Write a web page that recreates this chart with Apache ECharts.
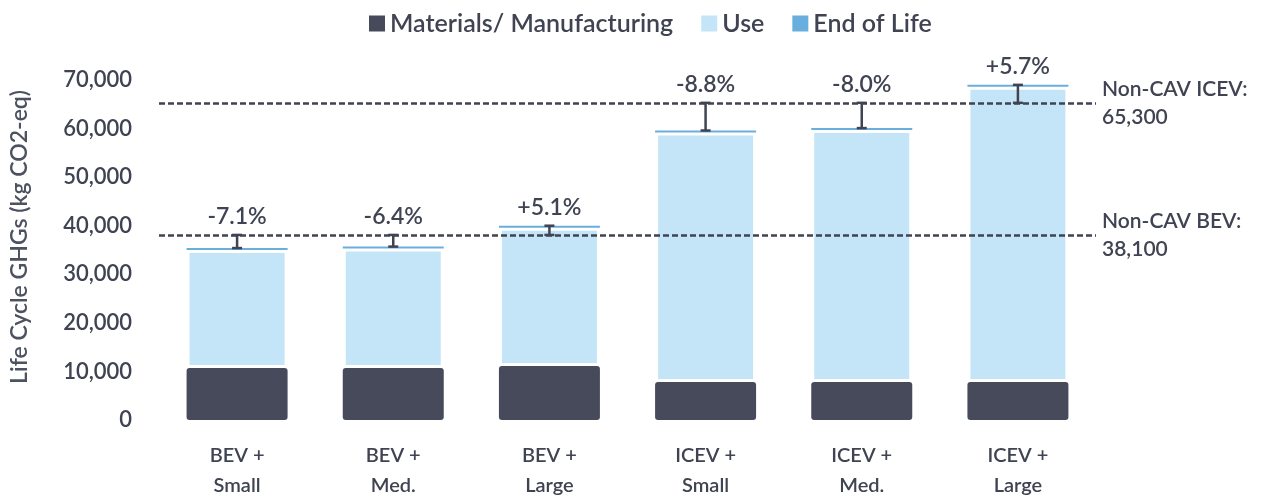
<!DOCTYPE html>
<html>
<head>
<meta charset="utf-8">
<script src="https://cdn.jsdelivr.net/npm/echarts@6/dist/echarts.min.js"></script>
<style>
  html, body { margin: 0; padding: 0; background: #ffffff; }
  #chart { width: 1268px; height: 496px; }
</style>
</head>
<body>
<div id="chart"></div>
<script>
// Life-cycle greenhouse gas emissions by powertrain + CAV size
const categories = ['BEV +\nSmall', 'BEV +\nMed.', 'BEV +\nLarge', 'ICEV +\nSmall', 'ICEV +\nMed.', 'ICEV +\nLarge'];
const materials = [10700, 10700, 11100, 7800, 7800, 7800];
const totals = [35400, 35700, 40000, 59600, 60100, 69000];
const endOfLife = [400, 400, 400, 400, 400, 400];
const baselines = [38100, 38100, 38100, 65300, 65300, 65300];
const changeLabels = ['-7.1%', '-6.4%', '+5.1%', '-8.8%', '-8.0%', '+5.7%'];
const bevBaseline = 38100;
const icevBaseline = 65300;
const yTicks = { min: 0, max: 70000, interval: 10000 };

// use-phase share = total minus the other two stages
const usePhase = totals.map((t, i) => t - materials[i] - endOfLife[i]);

const textColor = '#3f4352';
const font = 'Lato';
const weight = 600;

const chart = echarts.init(document.getElementById('chart'));

function fmt(v) { return v.toLocaleString('en-US'); }

chart.setOption({
  backgroundColor: '#ffffff',
  animation: false,
  textStyle: { fontFamily: font, fontWeight: weight, color: textColor },
  legend: {
    top: 6,
    left: 364,
    icon: 'rect',
    itemWidth: 16,
    itemHeight: 16,
    itemGap: 28,
    itemStyle: { borderWidth: 0 },
    textStyle: { fontFamily: font, fontWeight: weight, fontSize: 25, color: textColor },
    data: ['Materials/ Manufacturing', 'Use', 'End of Life']
  },
  grid: { left: 159, right: 172, top: 80, bottom: 76, containLabel: false, outerBoundsMode: 'none' },
  xAxis: {
    type: 'category',
    data: categories,
    axisLine: { show: false },
    axisTick: { show: false },
    axisLabel: {
      fontFamily: font, fontWeight: weight, fontSize: 20, color: textColor,
      lineHeight: 30, margin: 21, interval: 0
    }
  },
  yAxis: {
    type: 'value',
    min: yTicks.min,
    max: yTicks.max,
    interval: yTicks.interval,
    splitLine: { show: false },
    axisLine: { show: false },
    axisTick: { show: false },
    axisLabel: {
      fontFamily: font, fontWeight: weight, fontSize: 22, color: textColor, margin: 27,
      formatter: fmt
    },
    name: 'Life Cycle GHGs (kg CO2-eq)',
    nameLocation: 'middle',
    nameGap: 128,
    nameTextStyle: { fontFamily: font, fontWeight: weight, fontSize: 23, color: '#4d5261', padding: [0, 0, 0, 26] }
  },
  series: [
    {
      name: 'Materials/ Manufacturing',
      type: 'bar',
      stack: 'ghg',
      barWidth: 101,
      data: materials,
      itemStyle: { color: '#464a5b', borderRadius: 3 }
    },
    {
      name: 'Use',
      type: 'bar',
      stack: 'ghg',
      data: usePhase,
      itemStyle: { color: '#c3e5f7', borderColor: '#ffffff', borderWidth: 3 }
    },
    {
      name: 'End of Life',
      type: 'bar',
      stack: 'ghg',
      data: endOfLife,
      itemStyle: { color: '#6aaedd' },
      markLine: {
        symbol: 'none',
        silent: true,
        lineStyle: { color: '#3f4352', type: [6, 3], width: 2.5 },
        label: {
          show: true,
          position: 'end',
          distance: 6,
          fontFamily: font,
          fontWeight: weight,
          fontSize: 21,
          lineHeight: 28,
          color: textColor,
          formatter: p => p.name + ':\n' + fmt(p.value)
        },
        data: [
          { name: 'Non-CAV ICEV', yAxis: icevBaseline },
          { name: 'Non-CAV BEV', yAxis: bevBaseline }
        ]
      }
    },
    {
      // change versus the non-CAV baseline, with its percentage
      type: 'custom',
      name: 'change',
      clip: false,
      z: 10,
      data: totals.map((t, i) => [i, t, baselines[i]]),
      renderItem: function (params, api) {
        const i = api.value(0);
        const a = api.coord([i, api.value(1)]);
        const b = api.coord([i, api.value(2)]);
        const x = a[0];
        const cap = 5;
        const stroke = { stroke: '#3f4352', lineWidth: 2.5 };
        const top = Math.min(a[1], b[1]);
        return {
          type: 'group',
          children: [
            { type: 'line', shape: { x1: x, y1: a[1], x2: x, y2: b[1] }, style: stroke },
            { type: 'line', shape: { x1: x - cap, y1: a[1], x2: x + cap, y2: a[1] }, style: stroke },
            { type: 'line', shape: { x1: x - cap, y1: b[1], x2: x + cap, y2: b[1] }, style: stroke },
            {
              type: 'text',
              style: {
                x: x, y: top - 7,
                text: changeLabels[i],
                fill: textColor,
                font: weight + ' 23px "' + font + '"',
                textAlign: 'center',
                textVerticalAlign: 'bottom'
              }
            }
          ]
        };
      }
    }
  ]
});
</script>
</body>
</html>
